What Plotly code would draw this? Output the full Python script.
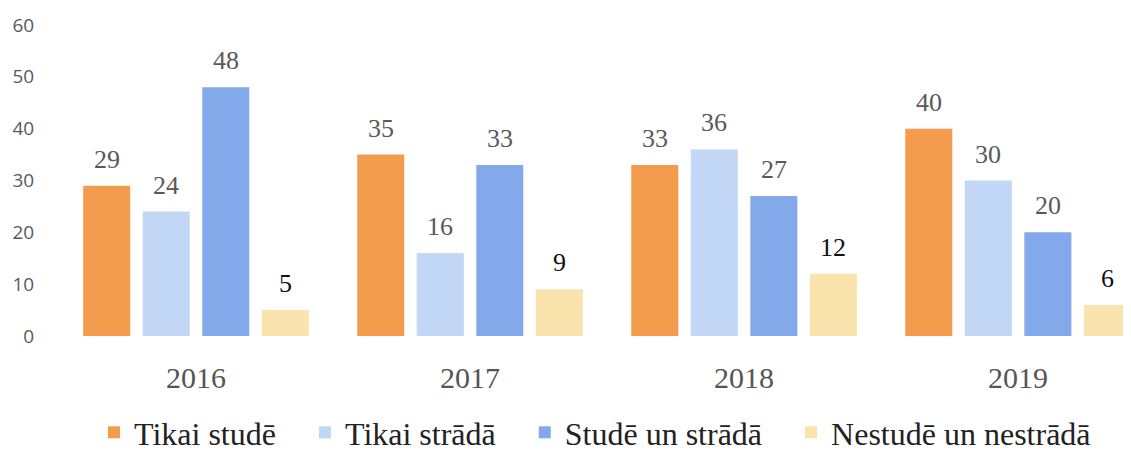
import plotly.graph_objects as go

years = ["2016", "2017", "2018", "2019"]
series_names = ["Tikai studē", "Tikai strādā", "Studē un strādā", "Nestudē un nestrādā"]
tikai_stude = [29, 35, 33, 40]
tikai_strada = [24, 16, 36, 30]
stude_un_strada = [48, 33, 27, 20]
nestude_un_nestrada = [5, 9, 12, 6]
y_ticks = [0, 10, 20, 30, 40, 50, 60]

colors = ["#F39C4E", "#C2D6F6", "#84A9EA", "#FAE3AC"]
label_colors = ["#595959", "#595959", "#595959", "#111111"]
values = [tikai_stude, tikai_strada, stude_un_strada, nestude_un_nestrada]

BARGAP = 0.131
SERIF = "Liberation Serif, Times New Roman, serif"
PAD = "\u00a0\u00a0\u00a0"
x_idx = list(range(len(years)))
n = len(values)
slot = (1 - BARGAP) / n

fig = go.Figure()
for k, (name, vals, c, lc) in enumerate(zip(series_names, values, colors, label_colors)):
    fig.add_trace(go.Bar(
        x=x_idx, y=vals, name=name + (PAD if k < n - 1 else ""),
        marker=dict(color=c, line=dict(width=0)),
    ))
    for i, v in zip(x_idx, vals):
        fig.add_annotation(
            x=i + (k - (n - 1) / 2) * slot, y=v, xref="x", yref="y",
            text=str(v), showarrow=False, yanchor="bottom", yshift=10,
            font=dict(family=SERIF, size=26, color=lc),
        )

fig.update_layout(
    width=1131, height=452,
    margin=dict(l=51, r=8, t=17, b=124, autoexpand=False),
    paper_bgcolor="white", plot_bgcolor="white",
    barmode="group", bargap=BARGAP, bargroupgap=0.21,
    showlegend=True,
    legend=dict(orientation="h", x=0.5, xanchor="center", yref="container",
                y=0.0, yanchor="bottom",
                font=dict(family=SERIF, size=32, color="#222222"),
                itemwidth=30, traceorder="normal"),
    xaxis=dict(tickmode="array", tickvals=x_idx, ticktext=years, automargin=False,
               range=[-0.5, 3.412], showgrid=False, zeroline=False, showline=False,
               ticks="outside", ticklen=15, tickcolor="rgba(0,0,0,0)",
               tickfont=dict(family=SERIF, size=30, color="#555555")),
    yaxis=dict(range=[0, 60], tickvals=y_ticks, showgrid=False, zeroline=False,
               automargin=False,
               showline=False, ticks="outside", ticklen=20, tickcolor="rgba(0,0,0,0)",
               tickfont=dict(family="Open Sans", size=19, color="#595959")),
)

fig.write_html("out.html")
